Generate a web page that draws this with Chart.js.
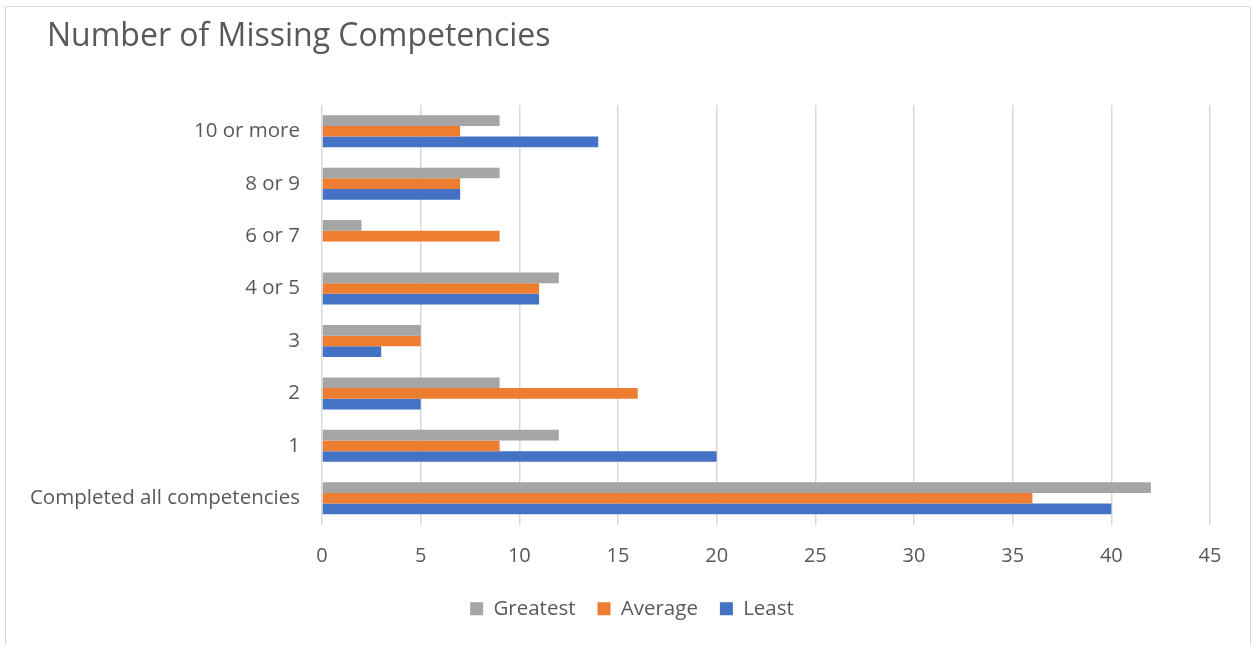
<!DOCTYPE html>
<html lang="en">
<head>
  <meta charset="UTF-8">
  <script src="https://cdn.jsdelivr.net/npm/chart.js"></script>
  <title>Number of Missing Competencies</title>
  <style>
    html, body { margin: 0; padding: 0; background: #fff; }
    #wrap { position: relative; width: 1253px; height: 645px; }
  </style>
</head>
<body>
  <div id="wrap"><canvas id="myChart"></canvas></div>
<script>
  // categories listed top to bottom, as they appear in the chart
  const categories = ['10 or more', '8 or 9', '6 or 7', '4 or 5', '3', '2', '1', 'Completed all competencies'];
  const greatest = [9, 9, 2, 12, 5, 9, 12, 42];
  const average = [7, 7, 9, 11, 5, 16, 9, 36];
  const least = [14, 7, 0, 11, 3, 5, 20, 40];
  const xTicks = [0, 5, 10, 15, 20, 25, 30, 35, 40, 45];
  const chartTitle = 'Number of Missing Competencies';

  const textColor = '#595959';
  const fontFamily = "'Open Sans', 'Noto Sans', sans-serif";

  // frame round the chart, and the title drawn at the left like Excel does
  const framePlugin = {
    id: 'frame',
    afterLayout(chart) {
      // legend sits centred on the whole chart, not just the plot
      chart.legend.left += 22;
      chart.legend.right += 22;
    },
    beforeDraw(chart) {
      const ctx = chart.ctx;
      ctx.save();
      ctx.strokeStyle = '#d9d9d9';
      ctx.lineWidth = 1;
      ctx.strokeRect(5.5, 6.5, 1245, 700);
      ctx.restore();
    },
    afterDraw(chart) {
      const ctx = chart.ctx;
      ctx.save();
      ctx.fillStyle = textColor;
      ctx.font = '32px ' + fontFamily;
      ctx.textAlign = 'left';
      ctx.textBaseline = 'alphabetic';
      ctx.fillText(chartTitle, 47, 46);
      ctx.restore();
    }
  };

  const config = {
    type: 'bar',
    data: {
      labels: categories,
      datasets: [
        { label: 'Greatest', data: greatest, backgroundColor: '#a5a5a5' },
        { label: 'Average', data: average, backgroundColor: '#ed7d31' },
        { label: 'Least', data: least, backgroundColor: '#4472c4' }
      ]
    },
    options: {
      indexAxis: 'y',
      responsive: true,
      maintainAspectRatio: false,
      animation: false,
      datasets: {
        bar: { categoryPercentage: 0.61, barPercentage: 1.0 }
      },
      layout: {
        padding: { left: 10, right: 43, top: 105, bottom: 16 }
      },
      scales: {
        x: {
          min: 0,
          max: 45,
          afterBuildTicks(scale) {
            scale.ticks = xTicks.map(v => ({ value: v }));
          },
          afterFit(scale) { scale.height = 52; },
          grid: { color: '#d9d9d9', lineWidth: 1.5, drawTicks: false },
          border: { display: false },
          ticks: {
            color: textColor,
            padding: 20,
            font: { family: fontFamily, size: 20 }
          }
        },
        y: {
          grid: { display: false },
          border: { display: false },
          afterFit(scale) { scale.width = 312; },
          ticks: {
            color: textColor,
            padding: 14,
            font: { family: fontFamily, size: 20.5 }
          }
        }
      },
      plugins: {
        title: { display: false },
        legend: {
          display: true,
          position: 'bottom',
          labels: {
            color: textColor,
            boxWidth: 13,
            boxHeight: 13,
            padding: 22,
            font: { family: fontFamily, size: 20.5 }
          }
        },
        tooltip: { enabled: false }
      }
    },
    plugins: [framePlugin]
  };

  const myChart = new Chart(document.getElementById('myChart'), config);
</script>
</body>
</html>
